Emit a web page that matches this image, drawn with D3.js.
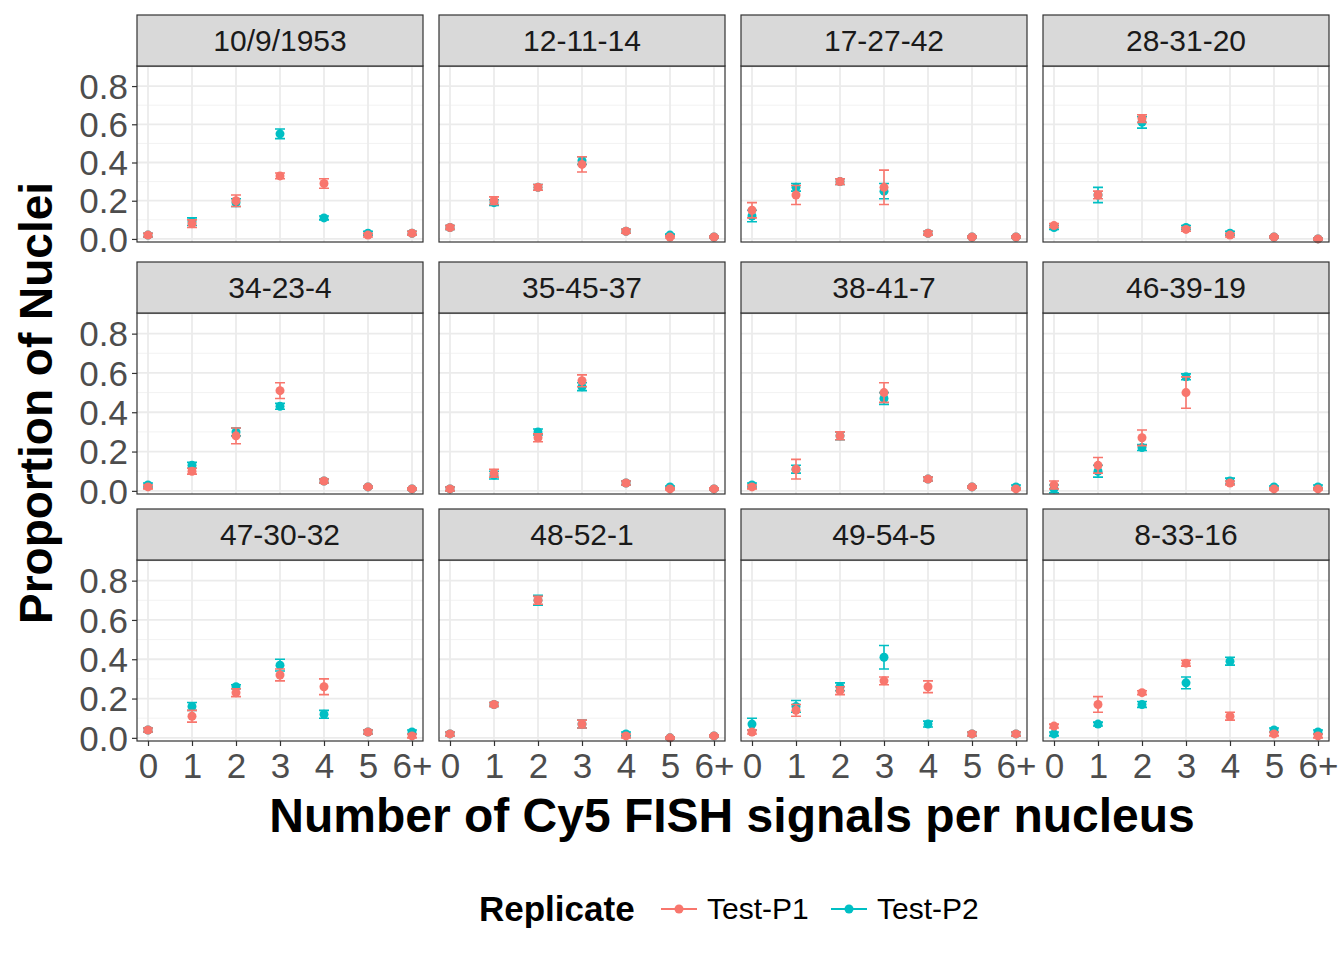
<!DOCTYPE html><html><head><meta charset="utf-8">
<script src="https://cdn.jsdelivr.net/npm/d3@7"></script>
<style>body{margin:0;background:#fff}svg{font-family:"Liberation Sans",Arial,sans-serif}</style></head><body>
<svg id="c" width="1344" height="960"></svg>
<script>
const panels=["10/9/1953","12-11-14","17-27-42","28-31-20","34-23-4","35-45-37","38-41-7","46-39-19","47-30-32","48-52-1","49-54-5","8-33-16"];
const cats=["0","1","2","3","4","5","6+"];
const yTicks=[0,0.2,0.4,0.6,0.8];
const p1=[[0.02,0.08,0.20,0.33,0.29,0.02,0.03],[0.06,0.20,0.27,0.39,0.04,0.01,0.01],[0.15,0.23,0.30,0.27,0.03,0.01,0.01],[0.07,0.23,0.63,0.05,0.02,0.01,0.00],
[0.02,0.10,0.28,0.51,0.05,0.02,0.01],[0.01,0.09,0.27,0.56,0.04,0.01,0.01],[0.02,0.11,0.28,0.50,0.06,0.02,0.01],[0.03,0.13,0.27,0.50,0.04,0.01,0.01],
[0.04,0.11,0.23,0.32,0.26,0.03,0.01],[0.02,0.17,0.70,0.07,0.01,0.00,0.01],[0.03,0.14,0.24,0.29,0.26,0.02,0.02],[0.06,0.17,0.23,0.38,0.11,0.02,0.01]];
const e1=[[0.01,0.02,0.03,0.015,0.025,0.01,0.01],[0.01,0.02,0.015,0.04,0.01,0.005,0.005],[0.04,0.05,0.015,0.09,0.01,0.005,0.005],[0.01,0.02,0.02,0.01,0.01,0.005,0.005],
[0.01,0.015,0.04,0.04,0.01,0.005,0.005],[0.01,0.02,0.02,0.03,0.01,0.005,0.005],[0.01,0.05,0.02,0.05,0.01,0.005,0.005],[0.02,0.04,0.04,0.08,0.01,0.005,0.005],
[0.01,0.03,0.02,0.03,0.04,0.01,0.01],[0.01,0.01,0.02,0.02,0.01,0.005,0.005],[0.01,0.03,0.02,0.02,0.03,0.01,0.01],[0.01,0.04,0.01,0.015,0.02,0.01,0.01]];
const p2=[[0.02,0.09,0.19,0.55,0.11,0.03,0.03],[0.06,0.19,0.27,0.41,0.04,0.02,0.01],[0.12,0.27,0.30,0.25,0.03,0.01,0.01],[0.06,0.23,0.61,0.06,0.03,0.01,0.00],
[0.03,0.13,0.30,0.43,0.05,0.02,0.01],[0.01,0.08,0.30,0.53,0.04,0.02,0.01],[0.03,0.11,0.28,0.47,0.06,0.02,0.02],[0.01,0.10,0.22,0.58,0.05,0.02,0.02],
[0.04,0.16,0.26,0.37,0.12,0.03,0.03],[0.02,0.17,0.70,0.07,0.02,0.00,0.01],[0.07,0.16,0.26,0.41,0.07,0.02,0.02],[0.02,0.07,0.17,0.28,0.39,0.04,0.03]];
const e2=[[0.01,0.02,0.02,0.025,0.01,0.01,0.01],[0.01,0.015,0.015,0.02,0.01,0.005,0.005],[0.03,0.02,0.015,0.04,0.01,0.005,0.005],[0.01,0.04,0.03,0.01,0.01,0.005,0.005],
[0.01,0.015,0.02,0.015,0.01,0.005,0.005],[0.01,0.02,0.015,0.02,0.01,0.005,0.005],[0.01,0.02,0.02,0.03,0.01,0.005,0.01],[0.02,0.03,0.015,0.015,0.015,0.005,0.01],
[0.01,0.02,0.01,0.03,0.02,0.01,0.01],[0.01,0.01,0.025,0.02,0.01,0.005,0.005],[0.03,0.03,0.02,0.06,0.015,0.01,0.01],[0.01,0.01,0.015,0.03,0.02,0.01,0.01]];
const series=[{name:"Test-P2",v:p2,e:e2,col:"#00BFC4"},{name:"Test-P1",v:p1,e:e1,col:"#F8766D"}];
const svg=d3.select("#c");
const colX=[137,439,741,1043], pw=286, rowY=[15,262,509], sh=51, ph=[176,181,181];
panels.forEach((name,i)=>{
  const r=Math.floor(i/4), c=i%4, x0=colX[c], y0=rowY[r]+sh, h=ph[r];
  const g=svg.append("g").attr("transform",`translate(${x0},${y0})`);
  const x=d3.scalePoint().domain(cats).range([0,pw]).padding(0.25);
  const y=d3.scaleLinear().domain([-0.016,0.905]).range([h,0]);
  const minors=[-0.1,0.1,0.3,0.5,0.7,0.9];
  g.selectAll(".mn").data(minors.filter(v=>y(v)>=0&&y(v)<=h)).join("line").attr("x1",0).attr("x2",pw).attr("y1",d=>y(d)).attr("y2",d=>y(d)).attr("stroke","#f2f2f2").attr("stroke-width",1);
  g.selectAll(".gy").data(yTicks).join("line").attr("x1",0).attr("x2",pw).attr("y1",d=>y(d)).attr("y2",d=>y(d)).attr("stroke","#ebebeb").attr("stroke-width",1.8);
  g.selectAll(".gx").data(cats).join("line").attr("x1",d=>x(d)).attr("x2",d=>x(d)).attr("y1",0).attr("y2",h).attr("stroke","#ebebeb").attr("stroke-width",1.8);
  series.forEach(s=>{
    const v=s.v[i], e=s.e[i];
    cats.forEach((k,j)=>{
      const cx=x(k);
      g.append("path").attr("d",`M${cx-5},${y(v[j]+e[j])}H${cx+5}M${cx},${y(v[j]+e[j])}V${y(Math.max(v[j]-e[j],-0.01))}M${cx-5},${y(Math.max(v[j]-e[j],-0.01))}H${cx+5}`).attr("stroke",s.col).attr("stroke-width",1.6).attr("fill","none");
      g.append("circle").attr("cx",cx).attr("cy",y(v[j])).attr("r",4.5).attr("fill",s.col);
    });
  });
  g.append("rect").attr("width",pw).attr("height",h).attr("fill","none").attr("stroke","#333").attr("stroke-width",1.2);
  svg.append("rect").attr("x",x0).attr("y",rowY[r]).attr("width",pw).attr("height",sh).attr("fill","#d9d9d9").attr("stroke","#333").attr("stroke-width",1.2);
  svg.append("text").attr("x",x0+pw/2).attr("y",rowY[r]+sh/2+10).attr("text-anchor","middle").attr("font-size",30).attr("fill","#1a1a1a").text(name);
  if(c===0){
    const ya=g.append("g").call(d3.axisLeft(y).tickValues(yTicks).tickFormat(d3.format(".1f")).tickSize(5).tickPadding(4));
    ya.select(".domain").remove();
    ya.selectAll("line").attr("stroke","#333").attr("stroke-width",1.2);
    ya.selectAll("text").attr("font-size",35).attr("fill","#4d4d4d").attr("font-family","Liberation Sans, Arial").attr("dy","0.35em");
  }
  if(r===2){
    const xa=g.append("g").attr("transform",`translate(0,${h})`).call(d3.axisBottom(x).tickSize(5).tickPadding(6));
    xa.select(".domain").remove();
    xa.selectAll("line").attr("stroke","#333").attr("stroke-width",1.2);
    xa.selectAll("text").attr("font-size",35).attr("fill","#4d4d4d").attr("font-family","Liberation Sans, Arial").attr("dy","0.75em");
  }
});
svg.append("text").attr("x",732).attr("y",832).attr("text-anchor","middle").attr("font-size",48).attr("font-weight","bold").text("Number of Cy5 FISH signals per nucleus");
svg.append("text").attr("transform","translate(52,403) rotate(-90)").attr("text-anchor","middle").attr("font-size",46).attr("font-weight","bold").text("Proportion of Nuclei");
const lg=svg.append("g").attr("transform","translate(0,909)");
lg.append("text").attr("x",479).attr("y",12).attr("font-size",35).attr("font-weight","bold").text("Replicate");
[[661,"Test-P1","#F8766D"],[831,"Test-P2","#00BFC4"]].forEach(([lx,t,col])=>{
  lg.append("line").attr("x1",lx).attr("x2",lx+36).attr("y1",0).attr("y2",0).attr("stroke",col).attr("stroke-width",2);
  lg.append("circle").attr("cx",lx+18).attr("cy",0).attr("r",4.5).attr("fill",col);
  lg.append("text").attr("x",lx+46).attr("y",10).attr("font-size",30).text(t);
});
</script></body></html>
